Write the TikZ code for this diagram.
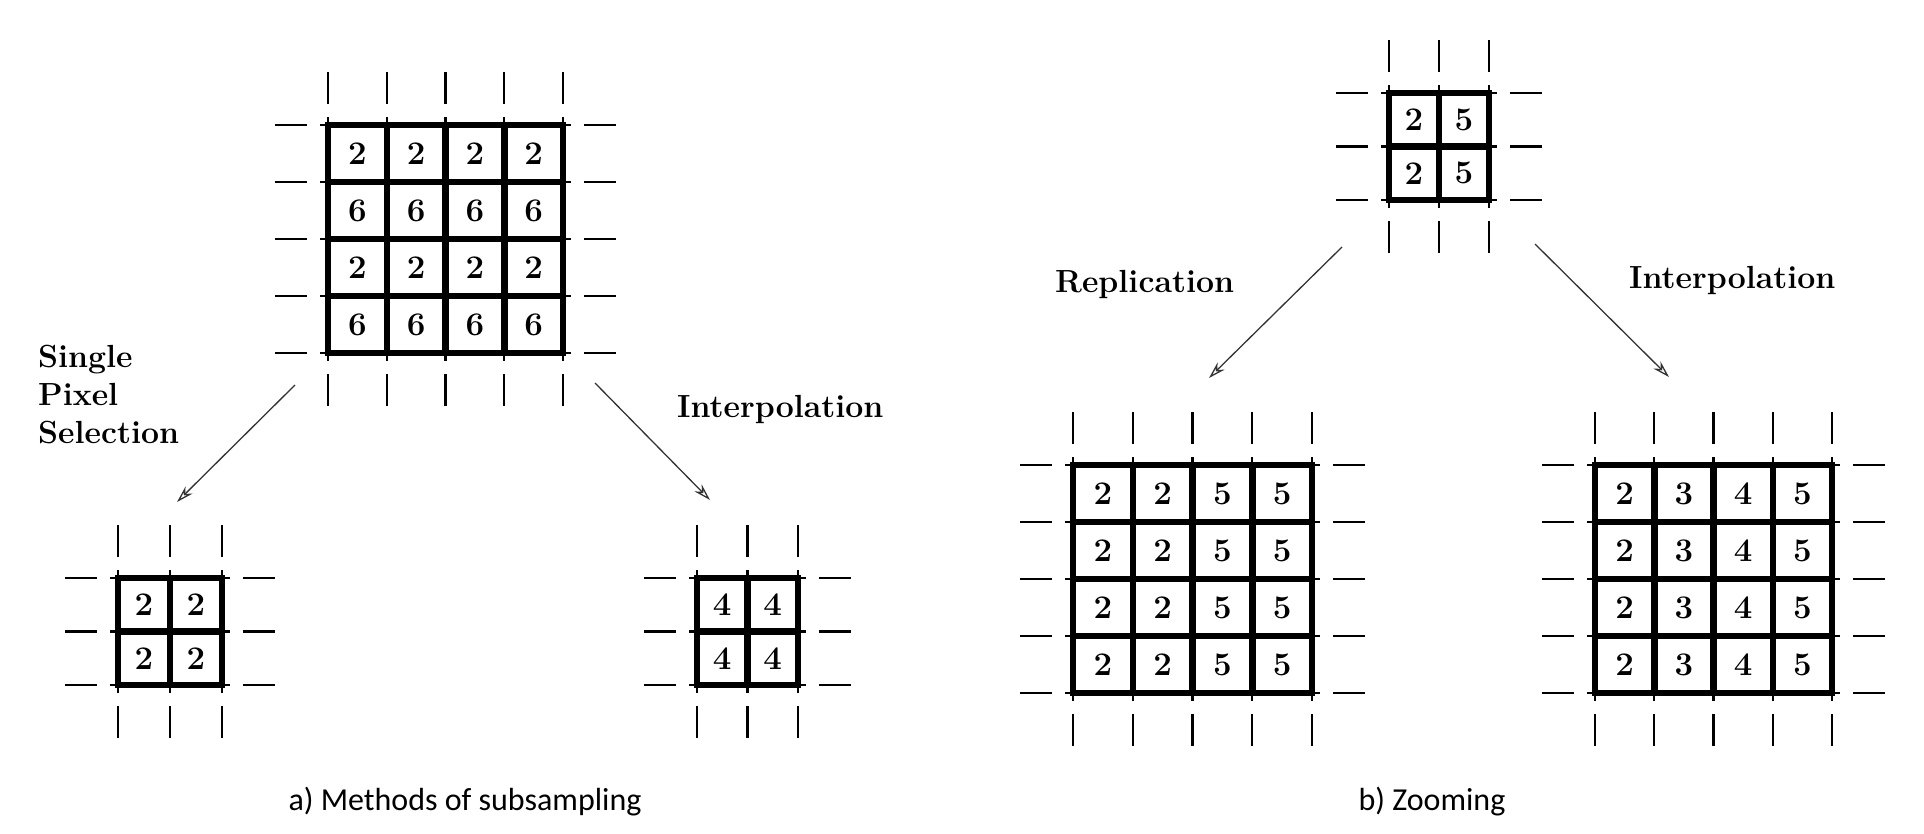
\documentclass[tikz,border=0pt]{standalone}
\usepackage{fontspec}
\newfontfamily\capfont{Carlito}
\usepackage{tikz}
\usetikzlibrary{arrows.meta, positioning, calc}

\tikzset{
  cell/.style={draw, line width=6.5pt, inner sep=0pt, font=\fontsize{33}{33}\selectfont\bfseries},
  tick/.style={line width=2.2pt},
  method/.style={font=\fontsize{32}{38}\selectfont\bfseries, inner sep=0pt, align=left},
  caption/.style={font=\fontsize{32}{38}\selectfont\capfont, inner sep=0pt},
  pointer/.style={line width=1.3pt, draw=black!80, -{Stealth[open, length=17pt, width=10pt]}}
}

% #1 name, #2 left, #3 top, #4 cells per side, #5 cell width, #6 cell height, #7 values
\newcommand{\pixgrid}[7]{%
  \foreach \k in {0,...,#4} {
    \draw[tick] ({#2+\k*#5},{#3-53}) -- ({#2+\k*#5},{#3-21});
    \draw[tick] ({#2+\k*#5},{#3+#4*#6+21}) -- ({#2+\k*#5},{#3+#4*#6+53});
    \draw[tick] ({#2+\k*#5},{#3-8}) -- ({#2+\k*#5},{#3+#4*#6+8});
    \draw[tick] ({#2-53},{#3+\k*#6}) -- ({#2-21},{#3+\k*#6});
    \draw[tick] ({#2+#4*#5+21},{#3+\k*#6}) -- ({#2+#4*#5+53},{#3+\k*#6});
    \draw[tick] ({#2-8},{#3+\k*#6}) -- ({#2+#4*#5+8},{#3+\k*#6});
  }
  \foreach \v [count=\k from 0] in {#7} {
    \pgfmathtruncatemacro{\gr}{\k/#4}
    \pgfmathtruncatemacro{\gc}{mod(\k,#4)}
    \node[cell, minimum width=#5pt, minimum height=#6pt] (#1-\gr-\gc) at ({#2+(\gc+0.5)*#5},{#3+(\gr+0.5)*#6}) {\v};
  }
}

\begin{document}
\begin{tikzpicture}[x=1pt, y=-1pt]
  \useasboundingbox (0,0) rectangle (1924,834);

  % a) subsampling
  \pixgrid{A}{328}{125}{4}{58.75}{57}{2,2,2,2,6,6,6,6,2,2,2,2,6,6,6,6}
  \pixgrid{B}{118}{578}{2}{52}{53.5}{2,2,2,2}
  \pixgrid{D}{697}{578}{2}{50.5}{53.5}{4,4,4,4}

  \coordinate (A-l) at (295,385);
  \coordinate (B-in) at (177,502);
  \coordinate (A-r) at (595,383);
  \coordinate (D-in) at (710,500);
  \draw[pointer] (A-l) -- (B-in);
  \draw[pointer] (A-r) -- (D-in);

  \node[method, anchor=north west] (single) at (38,345) {Single\\Pixel\\Selection};
  \node[method, anchor=base west] (interpa) at (677,417) {Interpolation};
  \node[caption, anchor=base] (capa) at (465,810) {a) Methods of subsampling};

  % b) zooming
  \pixgrid{C}{1389}{93}{2}{50}{53.5}{2,5,2,5}
  \pixgrid{E}{1073}{465}{4}{59.75}{57}{2,2,5,5,2,2,5,5,2,2,5,5,2,2,5,5}
  \pixgrid{F}{1595}{465}{4}{59.25}{57}{2,3,4,5,2,3,4,5,2,3,4,5,2,3,4,5}

  \coordinate (C-l) at (1342,247);
  \coordinate (E-in) at (1209,378);
  \coordinate (C-r) at (1535,244);
  \coordinate (F-in) at (1669,377);
  \draw[pointer] (C-l) -- (E-in);
  \draw[pointer] (C-r) -- (F-in);

  \node[method, anchor=base west] (repl) at (1055,292) {Replication};
  \node[method, anchor=base west] (interpb) at (1629,288) {Interpolation};
  \node[caption, anchor=base] (capb) at (1432,810) {b) Zooming};
\end{tikzpicture}
\end{document}
